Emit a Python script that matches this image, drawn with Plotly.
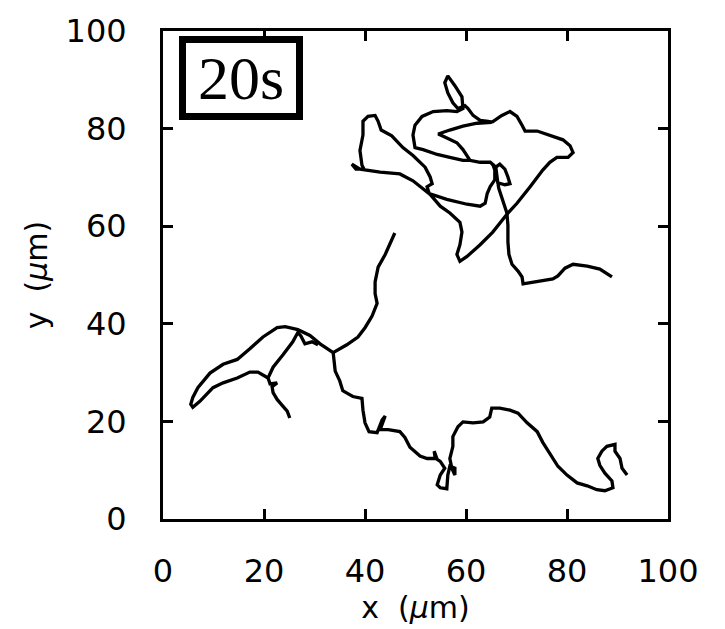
import plotly.graph_objects as go

# ---- data (micrometres) ----
# lower long track (from upper end at ~(46,58.6) down to the right end)
track_a_x = [45.9, 44.0, 42.6, 42.0, 42.0, 42.4, 41.4, 40.0, 38.6, 36.4, 33.7, 33.9, 34.1, 35.0, 35.6,
             36.6, 37.6, 39.4, 39.6, 40.0, 40.8, 42.4, 43.4, 44.0, 43.0, 44.6, 46.9, 47.9, 48.9, 50.9,
             52.3, 53.9, 53.7, 54.3, 54.9, 55.8, 54.9, 54.3, 54.9, 56.2, 56.4, 56.8, 57.8, 57.8, 57.2,
             56.8, 57.4, 57.4, 58.4, 59.4, 61.4, 63.4, 64.7, 65.1, 66.7, 68.7, 70.3, 72.1, 74.1, 75.2,
             76.6, 78.2, 80.0, 82.0, 84.0, 85.9, 87.5, 89.1, 88.9, 87.5, 86.5, 86.1, 86.9, 87.9, 89.5,
             89.5, 90.5, 90.9, 91.9]
track_a_y = [58.6, 54.2, 51.6, 48.6, 46.2, 44.2, 41.6, 39.2, 37.3, 35.7, 34.1, 32.7, 30.3, 28.3, 26.3,
             25.7, 25.1, 24.7, 22.3, 19.7, 17.9, 17.7, 20.3, 21.1, 18.3, 18.3, 17.9, 16.7, 14.7, 12.9,
             12.4, 12.4, 13.9, 12.2, 11.8, 10.4, 9.0, 7.0, 6.4, 6.2, 9.0, 10.8, 10.4, 9.0, 10.4,
             12.4, 14.9, 16.9, 18.9, 19.9, 19.7, 19.9, 20.9, 22.7, 22.7, 22.3, 21.7, 19.7, 17.9, 15.7,
             13.3, 10.8, 9.0, 7.4, 6.8, 6.0, 5.8, 6.4, 7.8, 9.4, 11.0, 12.4, 13.9, 14.9, 15.3,
             13.9, 12.4, 10.4, 9.0]

# lower-left finger-shaped track
track_b_x = [25.1, 24.6, 23.6, 22.6, 21.8, 21.6, 22.6, 21.2, 20.8, 18.8, 17.2, 14.7, 11.9, 9.9, 7.3,
             5.9, 5.5, 5.9, 6.9, 9.3, 11.9, 14.7, 17.2, 19.8, 22.6, 24.2, 26.7, 29.1, 31.1, 33.7]
track_b_y = [20.7, 22.1, 23.3, 24.5, 25.9, 27.1, 27.9, 27.7, 28.9, 30.1, 30.1, 28.9, 27.9, 26.9, 24.1,
             22.9, 23.5, 24.9, 26.9, 29.9, 31.7, 32.7, 34.9, 37.3, 39.2, 39.4, 38.8, 37.6, 35.9, 34.1]

# short branch inside the finger
track_c_x = [20.8, 21.8, 23.8, 25.7, 26.7, 27.3, 28.1, 29.5, 30.7]
track_c_y = [28.9, 31.1, 33.7, 36.3, 38.2, 37.5, 35.9, 36.3, 35.7]

# upper track, part 1 (right tail, vertical stem, belt, teardrop, arrow)
track_d_x = [88.9, 86.5, 84.0, 81.2, 79.6, 78.2, 77.2, 74.1, 71.3, 71.1, 70.3, 69.1, 68.5, 68.3, 68.3,
             68.1, 67.3, 66.5, 66.1, 65.9, 66.7, 67.7, 68.3, 68.7, 67.7, 66.3, 66.1, 65.9, 64.8, 62.8,
             60.8, 59.4, 56.8, 54.3, 51.5, 49.9, 49.5, 49.9, 51.3, 53.5, 56.2, 58.2, 59.4, 59.2, 57.8,
             56.4, 55.8, 56.4, 57.4, 58.4, 59.8, 60.4, 61.4, 62.8, 64.4, 65.1, 62.2, 59.4, 56.8, 54.5,
             55.8, 58.2, 59.4, 60.2, 60.8]
track_d_y = [49.6, 51.2, 51.8, 52.2, 51.4, 49.8, 49.2, 48.6, 48.2, 49.6, 50.8, 52.2, 54.2, 56.8, 60.2,
             62.7, 65.1, 67.7, 70.1, 72.1, 72.7, 71.7, 70.1, 68.7, 68.5, 68.9, 70.5, 72.1, 73.1, 73.1,
             73.5, 73.5, 74.1, 74.7, 75.7, 76.1, 78.7, 80.7, 82.5, 83.5, 83.7, 83.5, 84.1, 86.5, 88.8,
             90.8, 89.4, 87.3, 85.3, 84.1, 84.7, 84.1, 82.7, 81.7, 81.5, 81.3, 81.1, 80.5, 79.7, 78.9,
             78.3, 77.1, 75.7, 74.3, 73.5]

# upper track, part 2 (right lobe, long diagonal, left lobe, return diagonal)
track_e_x = [65.1, 67.1, 68.7, 70.1, 71.1, 71.7, 74.1, 76.6, 79.2, 80.6, 81.2, 80.2, 78.0, 76.6, 75.2,
             72.7, 70.1, 68.3, 65.3, 62.8, 60.2, 58.8, 58.2, 58.8, 59.2, 58.8, 56.8, 54.9, 52.9, 49.5,
             46.9, 43.0, 40.4, 39.0, 37.4, 38.2, 39.8, 39.4, 39.0, 39.6, 39.6, 40.6, 42.0, 42.6, 43.2,
             45.3, 47.5, 49.5, 51.9, 52.9, 53.3, 52.3, 52.7, 56.2, 60.2, 62.8, 63.8, 64.2, 64.8, 65.7,
             65.7, 65.3]
track_e_y = [81.3, 82.7, 83.5, 82.5, 80.7, 79.5, 79.5, 78.7, 77.7, 76.5, 75.1, 74.1, 74.1, 73.1, 71.5,
             68.1, 64.7, 62.7, 58.8, 56.2, 53.8, 52.8, 54.2, 56.2, 58.8, 60.8, 62.7, 64.1, 66.5, 69.3,
             70.7, 71.1, 71.5, 71.7, 72.7, 71.7, 71.7, 72.5, 75.5, 78.7, 81.5, 82.5, 82.7, 81.5, 79.7,
             78.5, 76.1, 74.5, 72.1, 70.1, 68.7, 68.1, 66.7, 65.5, 64.5, 64.1, 64.7, 66.7, 68.1, 69.5,
             71.5, 72.7]

tick_vals = [0, 20, 40, 60, 80, 100]
tick_text = ["0", "20", "40", "60", "80", "100"]
time_label = "20s"

fig = go.Figure()
for xs, ys in [(track_a_x, track_a_y), (track_b_x, track_b_y), (track_c_x, track_c_y),
               (track_d_x, track_d_y), (track_e_x, track_e_y)]:
    fig.add_trace(go.Scatter(x=xs, y=ys, mode="lines",
                             line=dict(color="black", width=3.3, shape="linear"),
                             showlegend=False, hoverinfo="skip"))

axis_common = dict(range=[0, 100], tickvals=tick_vals, ticktext=tick_text,
                   ticks="inside", ticklen=10, tickwidth=2.5, tickcolor="black",
                   showline=True, linewidth=3, linecolor="black", mirror="allticks",
                   showgrid=False, zeroline=False,
                   tickfont=dict(family="DejaVu Sans", size=32, color="black"))

fig.update_xaxes(**axis_common, ticklabelstandoff=22,
                 title=dict(text="x  (<i>μ</i>m)", standoff=6,
                            font=dict(family="DejaVu Sans", size=30, color="black")))
fig.update_yaxes(**axis_common, ticklabelstandoff=27,
                 title=dict(text="y  (<i>μ</i>m)", standoff=10,
                            font=dict(family="DejaVu Sans", size=30, color="black")))

fig.add_annotation(xref="paper", yref="paper", x=0.032, y=0.99,
                   xanchor="left", yanchor="top", text=time_label, showarrow=False,
                   font=dict(family="Liberation Serif", size=62, color="black"),
                   bordercolor="black", borderwidth=7, borderpad=0,
                   bgcolor="white", width=110, height=70)

fig.update_layout(width=725, height=629, margin=dict(l=163, r=57, t=20, b=107),
                  plot_bgcolor="white", paper_bgcolor="white")

fig.write_html("out.html")
